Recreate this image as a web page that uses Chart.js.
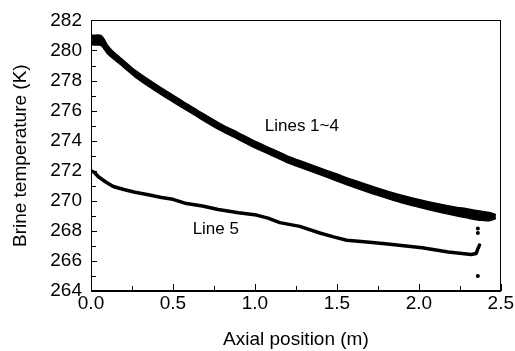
<!DOCTYPE html>
<html>
<head>
<meta charset="utf-8">
<script src="https://cdn.jsdelivr.net/npm/chart.js@4"></script>
<style>
  html, body { margin: 0; padding: 0; background: #fff; }
  #wrap { width: 515px; height: 351px; position: relative; }
</style>
</head>
<body>
<div id="wrap"><canvas id="c" width="515" height="351"></canvas></div>
<script>
// ---- Data ----
const xUpper = [0, 0.03, 0.06, 0.08, 0.10, 0.13, 0.2, 0.27, 0.37, 0.47, 0.56, 0.65, 0.79, 0.9, 0.99, 1.1, 1.19, 1.3, 1.4, 1.5, 1.6, 1.75, 1.9, 2.05, 2.2, 2.3, 2.38, 2.43, 2.47];
const upperTop = [281.0, 281.02, 281.0, 280.75, 280.35, 279.98, 279.32, 278.67, 277.92, 277.22, 276.62, 276.02, 275.12, 274.52, 274.02, 273.47, 273.02, 272.57, 272.17, 271.78, 271.38, 270.84, 270.35, 269.96, 269.63, 269.45, 269.3, 269.22, 269.08];
const upperBottom = [280.38, 280.36, 280.35, 280.1, 279.8, 279.5, 278.88, 278.23, 277.48, 276.78, 276.18, 275.58, 274.68, 274.08, 273.58, 273.03, 272.58, 272.13, 271.73, 271.32, 270.92, 270.36, 269.85, 269.44, 269.07, 268.85, 268.7, 268.68, 268.82];

const xLower = [0, 0.02, 0.045, 0.09, 0.136, 0.2, 0.268, 0.35, 0.43, 0.5, 0.573, 0.68, 0.776, 0.9, 1.01, 1.08, 1.152, 1.274, 1.396, 1.48, 1.56, 1.7, 1.81, 2.02, 2.18, 2.32, 2.35, 2.36, 2.37];
const lowerT = [272.0, 271.9, 271.6, 271.25, 270.95, 270.75, 270.57, 270.4, 270.22, 270.1, 269.84, 269.65, 269.42, 269.2, 269.05, 268.85, 268.55, 268.3, 267.86, 267.6, 267.38, 267.25, 267.13, 266.87, 266.6, 266.43, 266.5, 266.8, 267.05];

const xDots = [2.36, 2.36, 2.36];
const dotsT = [268.15, 267.85, 265.0];

const xTicks = [0, 0.5, 1.0, 1.5, 2.0, 2.5];
const yTicks = [264, 266, 268, 270, 272, 274, 276, 278, 280, 282];

const labels = [
  { text: 'Lines 1~4', x: 1.06, y: 274.95 },
  { text: 'Line 5', x: 0.62, y: 268.1 }
];

const FONT = 'Liberation Sans, Arial, Helvetica, sans-serif';

function pts(xs, ys) { return xs.map((x, i) => ({ x: x, y: ys[i] })); }

const frame = {
  id: 'frame',
  afterDatasetsDraw(chart) {
    const { ctx, chartArea: a, scales } = chart;
    const xs = scales.x, ys = scales.y;
    ctx.save();
    ctx.strokeStyle = '#000';
    ctx.lineWidth = 1;
    ctx.strokeRect(Math.round(a.left) + 0.5, Math.round(a.top) + 0.5,
                   Math.round(a.right - a.left) - 1, Math.round(a.bottom - a.top) - 1);
    ctx.beginPath();
    for (let i = 0; i < yTicks.length; i++) {
      const p = Math.round(ys.getPixelForValue(yTicks[i])) + 0.5;
      ctx.moveTo(a.left, p); ctx.lineTo(a.left + 6, p);
      if (i < yTicks.length - 1) {
        const m = Math.round(ys.getPixelForValue((yTicks[i] + yTicks[i + 1]) / 2)) + 0.5;
        ctx.moveTo(a.left, m); ctx.lineTo(a.left + 5, m);
      }
    }
    for (let i = 0; i < xTicks.length; i++) {
      const p = Math.round(xs.getPixelForValue(xTicks[i])) + 0.5;
      ctx.moveTo(p, a.bottom); ctx.lineTo(p, a.bottom - 7);
      if (i < xTicks.length - 1) {
        const m = Math.round(xs.getPixelForValue((xTicks[i] + xTicks[i + 1]) / 2)) + 0.5;
        ctx.moveTo(m, a.bottom); ctx.lineTo(m, a.bottom - 5);
      }
    }
    ctx.stroke();
    ctx.fillStyle = '#000';
    ctx.font = '17px ' + FONT;
    ctx.textAlign = 'left';
    ctx.textBaseline = 'middle';
    labels.forEach(l => ctx.fillText(l.text, xs.getPixelForValue(l.x), ys.getPixelForValue(l.y)));
    ctx.restore();
  }
};

new Chart(document.getElementById('c'), {
  type: 'line',
  data: {
    datasets: [
      { data: pts(xUpper, upperTop), borderColor: '#000', borderWidth: 1.5, pointRadius: 0, fill: false, tension: 0.3 },
      { data: pts(xUpper, upperBottom), borderColor: '#000', borderWidth: 1.5, pointRadius: 0, fill: '-1', backgroundColor: '#000', tension: 0.3 },
      { data: pts(xLower, lowerT), borderColor: '#000', borderWidth: 3.5, pointRadius: 0, fill: false, tension: 0, borderJoinStyle: 'round', borderCapStyle: 'round' },
      { data: pts(xDots, dotsT), showLine: false, pointRadius: 2, pointBackgroundColor: '#000', pointBorderWidth: 0, fill: false }
    ]
  },
  options: {
    responsive: false,
    animation: false,
    layout: { padding: { top: 18, right: 14, bottom: 0, left: 0 } },
    plugins: { legend: { display: false }, tooltip: { enabled: false } },
    scales: {
      x: {
        type: 'linear', min: 0, max: 2.5,
        afterBuildTicks: s => { s.ticks = xTicks.map(v => ({ value: v })); },
        afterFit: s => { s.height = 60; },
        grid: { display: false, drawTicks: false },
        border: { display: true, color: '#000', width: 1 },
        ticks: { color: '#000', padding: 1, maxRotation: 0, font: { family: FONT, size: 19 }, callback: v => Number(v).toFixed(1) },
        title: { display: true, text: 'Axial position (m)', color: '#000', font: { family: FONT, size: 19 }, padding: { top: 0, bottom: 0 } }
      },
      y: {
        type: 'linear', min: 264, max: 282,
        afterBuildTicks: s => { s.ticks = yTicks.map(v => ({ value: v })); },
        afterFit: s => { s.width = 91; },
        grid: { display: false, drawTicks: false },
        border: { display: true, color: '#000', width: 1 },
        ticks: { color: '#000', padding: 9, font: { family: FONT, size: 19 }, callback: v => String(v) },
        title: { display: true, text: 'Brine temperature (K)', color: '#000', font: { family: FONT, size: 19 }, padding: { top: 9, bottom: 0 } }
      }
    }
  },
  plugins: [frame]
});
</script>
</body>
</html>
